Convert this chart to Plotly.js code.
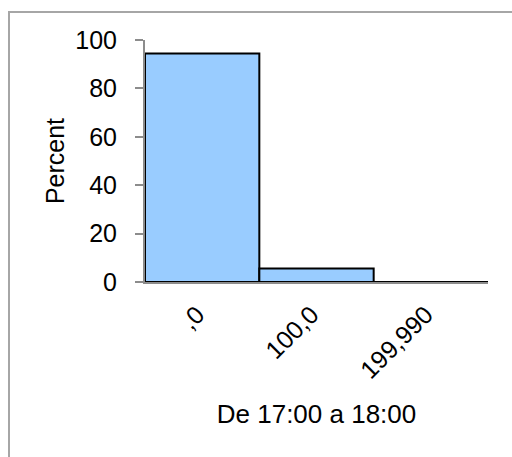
<!DOCTYPE html>
<html>
<head>
<meta charset="utf-8">
<script src="https://cdn.plot.ly/plotly-3.0.1.min.js"></script>
<style>
  html, body { margin: 0; padding: 0; background: #ffffff; width: 512px; height: 457px; overflow: hidden; }
  #frame { position: absolute; left: 8px; top: 11px; width: 600px; height: 600px; border: 2px solid #a6a6a6; box-sizing: border-box; }
  #chart { position: absolute; left: 0; top: 0; width: 512px; height: 457px; }
</style>
</head>
<body>
<div id="frame"></div>
<div id="chart"></div>
<script>
const categories = [",0", "100,0", "199,990"];
const percentValues = [94.4, 5.6, 0];
const yTickValues = [0, 20, 40, 60, 80, 100];
const xTitle = "De 17:00 a 18:00";
const yTitle = "Percent";

const fontFamily = "Liberation Sans, Arial, sans-serif";

const trace = {
  type: "bar",
  x: categories,
  y: percentValues,
  width: 1,
  marker: { color: "#99ccff", line: { color: "#000000", width: 2 } },
  hoverinfo: "skip"
};

const layout = {
  width: 512,
  height: 457,
  paper_bgcolor: "rgba(0,0,0,0)",
  plot_bgcolor: "rgba(0,0,0,0)",
  margin: { l: 145, r: 24, t: 40, b: 175, pad: 0 },
  showlegend: false,
  bargap: 0,
  font: { family: fontFamily, size: 25, color: "#000000" },
  xaxis: {
    type: "category",
    range: [-0.5, 2.5],
    showline: true,
    linecolor: "#8c8c8c",
    linewidth: 2,
    ticks: "",
    tickangle: -45,
    ticklabelshift: -5,
    ticklabelstandoff: 6,
    showgrid: false,
    zeroline: false,
    tickfont: { family: fontFamily, size: 25, color: "#000000" },
    title: { text: xTitle, font: { family: fontFamily, size: 26, color: "#000000" }, standoff: 22 }
  },
  yaxis: {
    range: [0, 100],
    tickvals: yTickValues,
    showline: true,
    linecolor: "#8c8c8c",
    linewidth: 2,
    ticks: "outside",
    ticklen: 8,
    tickwidth: 2,
    tickcolor: "#8c8c8c",
    ticklabelstandoff: 13,
    showgrid: false,
    zeroline: false,
    tickfont: { family: fontFamily, size: 25, color: "#000000" },
    title: { text: yTitle, font: { family: fontFamily, size: 25, color: "#000000" }, standoff: 4 }
  }
};

Plotly.newPlot("chart", [trace], layout, { displayModeBar: false, staticPlot: true });
</script>
</body>
</html>
